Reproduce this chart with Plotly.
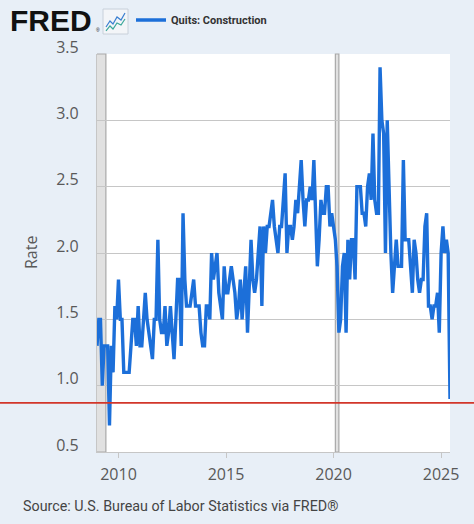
import pandas as pd
import plotly.graph_objects as go

# ---- data ----
start_month = "2009-01-01"
quits_rate = [
    # 2009
    1.3, 1.5, 1.5, 1.0, 1.3, 1.3, 1.3, 0.7, 1.3, 1.1, 1.6, 1.5,
    # 2010
    1.8, 1.5, 1.5, 1.1, 1.1, 1.1, 1.1, 1.3, 1.5, 1.5, 1.3, 1.6,
    # 2011
    1.3, 1.3, 1.5, 1.7, 1.5, 1.4, 1.3, 1.2, 1.5, 1.5, 2.1, 1.5,
    # 2012
    1.4, 1.4, 1.6, 1.3, 1.4, 1.6, 1.4, 1.2, 1.5, 1.8, 1.8, 1.3,
    # 2013
    2.3, 1.8, 1.6, 1.6, 1.6, 1.7, 1.8, 1.6, 1.6, 1.6, 1.4, 1.3,
    # 2014
    1.3, 1.6, 1.6, 1.5, 2.0, 1.8, 1.9, 2.0, 1.7, 1.6, 1.5, 1.9,
    # 2015
    1.7, 1.7, 1.8, 1.9, 1.8, 1.7, 1.5, 1.6, 1.8, 1.5, 1.7, 1.9,
    # 2016
    1.4, 1.8, 2.1, 1.8, 1.7, 1.8, 2.0, 2.2, 1.6, 2.2, 2.0, 2.2,
    # 2017
    2.2, 2.3, 2.4, 2.2, 2.1, 2.0, 2.2, 2.2, 2.4, 2.6, 2.0, 2.2,
    # 2018
    2.2, 2.1, 2.2, 2.4, 2.3, 2.5, 2.7, 2.4, 2.2, 2.4, 2.4, 2.5,
    # 2019
    2.4, 2.7, 2.2, 1.9, 2.1, 2.4, 2.3, 2.3, 2.5, 2.5, 2.2, 2.3,
    # 2020
    2.2, 2.1, 1.9, 1.4, 1.5, 1.9, 2.0, 1.4, 2.1, 1.8, 2.1, 2.1,
    # 2021
    1.8, 2.5, 2.5, 2.5, 2.3, 2.3, 2.2, 2.5, 2.6, 2.4, 2.9, 2.4,
    # 2022
    2.3, 2.3, 3.4, 3.0, 2.9, 2.0, 3.0, 2.4, 2.0, 1.7, 1.9, 2.1,
    # 2023
    1.9, 1.9, 1.9, 2.7, 2.1, 2.1, 2.1, 1.9, 1.7, 2.1, 2.0, 1.8,
    # 2024
    1.7, 1.8, 1.8, 2.2, 2.3, 1.6, 1.6, 1.5, 1.6, 1.6, 1.7, 1.4,
    # 2025
    2.0, 2.2, 2.0, 2.1, 2.0, 0.9,
]
dates = pd.date_range(start_month, periods=len(quits_rate), freq="MS")

recession_starts = ["2007-12-01", "2020-02-01"]
recession_ends = ["2009-06-01", "2020-04-01"]

y_tick_values = [0.5, 1.0, 1.5, 2.0, 2.5, 3.0, 3.5]
reference_level = 0.87

series_name = "Quits: Construction"
y_title = "Rate"
source_text = "Source: U.S. Bureau of Labor Statistics via FRED®"

# ---- layout geometry ----
W, H = 474, 524
ML, MR, MT, MB = 97, 24, 54, 72
PW, PH = W - ML - MR, H - MT - MB


def px(x):
    return (x - ML) / PW


def py(y):
    return (H - MB - y) / PH


BG = "#e8eff7"
GRID = "#c6c6c6"
LINE_BLUE = "#1c6fd9"
TEXT = "#595959"

fig = go.Figure()
fig.add_trace(go.Scatter(
    x=dates, y=quits_rate, mode="lines", name=series_name,
    line=dict(color=LINE_BLUE, width=3.4),
    showlegend=True,
))

shapes = []
for s, e in zip(recession_starts, recession_ends):
    shapes.append(dict(type="rect", xref="x", yref="paper", x0=s, x1=e, y0=0, y1=1,
                       fillcolor="#e1e1e1", line=dict(color="#a9a9a9", width=1.2),
                       layer="below"))

# red reference line across the whole picture
shapes.append(dict(type="line", xref="paper", yref="y", x0=px(0), x1=px(W),
                   y0=reference_level, y1=reference_level,
                   line=dict(color="#d2362a", width=1.8), layer="above"))

# FRED icon box
shapes.append(dict(type="rect", xref="paper", yref="paper",
                   x0=px(103), x1=px(128), y0=py(34), y1=py(9),
                   fillcolor="#f3f5f8", line=dict(color="#c8d0da", width=1)))
icon_upper = [(106, 27), (110, 21), (113, 24), (117, 17), (121, 20), (125, 13)]
icon_lower = [(106, 31), (110, 26), (113, 29), (117, 23), (121, 25), (125, 19)]
for pts, col in ((icon_upper, "#3a7fd0"), (icon_lower, "#3aa79a")):
    path = "M " + " L ".join(f"{px(a):.4f},{py(b):.4f}" for a, b in pts)
    shapes.append(dict(type="path", xref="paper", yref="paper", path=path,
                       line=dict(color=col, width=1.2)))

annotations = [
    dict(text="<b>FRED</b>", xref="paper", yref="paper", x=px(8), y=py(21),
         xanchor="left", yanchor="middle", showarrow=False,
         font=dict(family="Liberation Sans", size=30, color="#111111")),
    dict(text="®", xref="paper", yref="paper", x=px(94), y=py(30),
         xanchor="left", yanchor="middle", showarrow=False,
         font=dict(family="Liberation Sans", size=5, color="#111111")),
    dict(text=y_title, xref="paper", yref="paper", x=px(31), y=0.5,
         xanchor="center", yanchor="middle", textangle=-90, showarrow=False,
         font=dict(family="Open Sans", size=16, color=TEXT)),
    dict(text=source_text, xref="paper", yref="paper", x=px(21), y=py(506),
         xanchor="left", yanchor="middle", showarrow=False,
         font=dict(family="Roboto", size=14.3, color="#444444")),
]

fig.update_layout(
    width=W, height=H,
    margin=dict(l=ML, r=MR, t=MT, b=MB, pad=0, autoexpand=False),
    paper_bgcolor=BG, plot_bgcolor="white",
    shapes=shapes, annotations=annotations,
    showlegend=True,
    legend=dict(xref="container", yref="container", x=131 / W, y=1 - 20 / H,
                xanchor="left", yanchor="middle", bgcolor="rgba(0,0,0,0)",
                font=dict(family="Roboto", size=11, color="#333333", weight="bold"),
                itemwidth=30, tracegroupgap=0),
    xaxis=dict(
        range=[dates[0], dates[-1]], type="date",
        tickformat="%Y", dtick="M60", tick0="2010-01-01", tickangle=0,
        showgrid=False, zeroline=False,
        showline=True, linecolor=GRID, linewidth=1.3,
        ticks="outside", ticklen=5, tickcolor=GRID, tickwidth=1.3,
        tickfont=dict(family="Open Sans", size=16, color=TEXT),
        ticklabelstandoff=3,
    ),
    yaxis=dict(
        range=[0.5, 3.5], tickvals=y_tick_values, tickformat=".1f",
        showgrid=True, gridcolor=GRID, gridwidth=1.3, zeroline=False,
        showline=True, linecolor=GRID, linewidth=1.3,
        ticks="", tickfont=dict(family="Open Sans", size=16, color=TEXT),
        ticklabelstandoff=14, ticklabelshift=-7,
    ),
)

fig.write_html("out.html", config={"displayModeBar": False},
               post_script="document.body.style.margin='0';")
